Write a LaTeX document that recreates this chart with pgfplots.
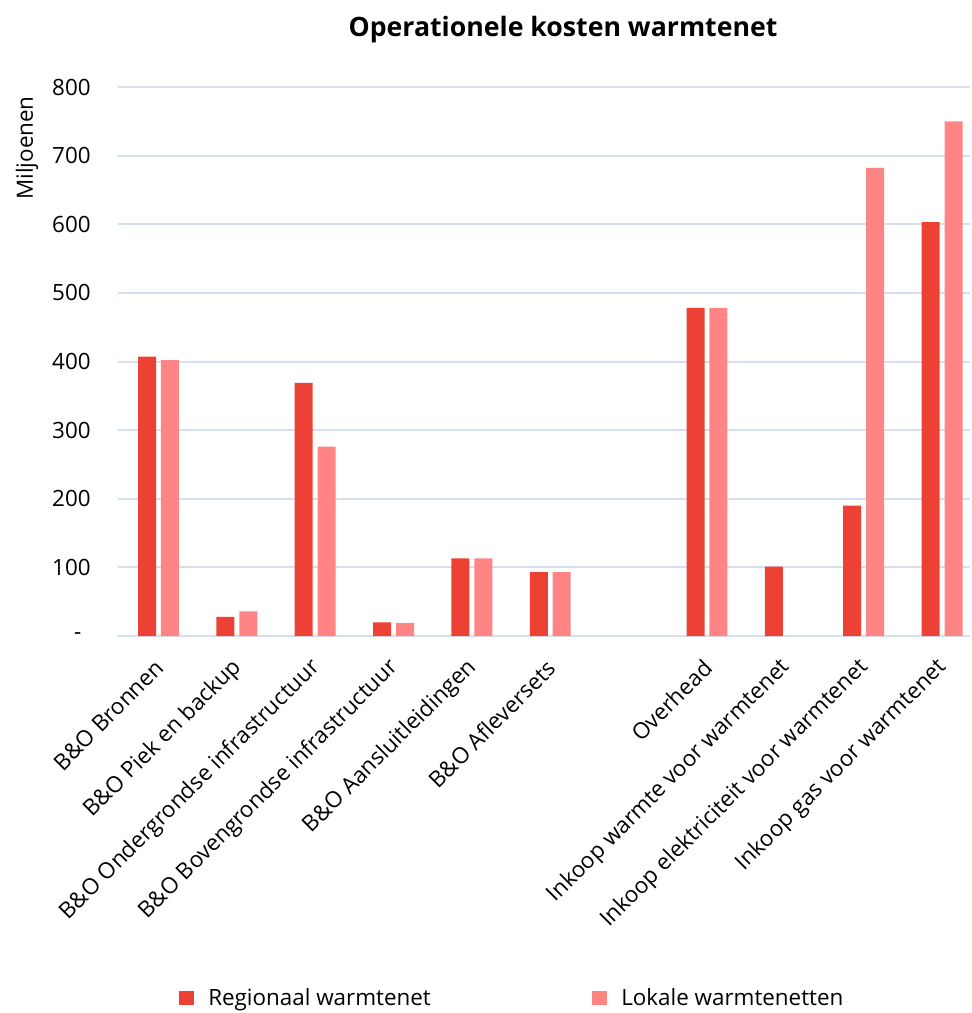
\documentclass[border=0pt]{standalone}
\usepackage{fontspec}
\setmainfont{Open Sans}
\usepackage{pgfplots}
\pgfplotsset{compat=1.18}
\definecolor{cred}{RGB}{238,65,54}
\definecolor{cpink}{RGB}{255,133,133}
\definecolor{cgrid}{RGB}{214,223,240}
\begin{document}
\begin{tikzpicture}
\useasboundingbox (-88.5pt,-282.75pt) rectangle (639.75pt,477pt);
\begin{axis}[
  at={(0,0)}, anchor=south west,
  scale only axis,
  width=639pt, height=411.75pt,
  xmin=-0.517, xmax=10.357,
  ymin=0, ymax=800,
  axis line style={draw=none},
  major tick length=0pt,
  ytick={0,100,...,800},
  yticklabels={{-\kern7pt},100,200,300,400,500,600,700,800},
  yticklabel style={font=\fontsize{16.8}{20}\selectfont, anchor=east, xshift=-17pt},
  xtick={0,1,2,3,4,5,6,7,8,9,10},
  xticklabels={B\&O Bronnen, B\&O Piek en backup, B\&O Ondergrondse infrastructuur, B\&O Bovengrondse infrastructuur, B\&O Aansluitleidingen, B\&O Afleversets, {}, Overhead, Inkoop warmte voor warmtenet, Inkoop elektriciteit voor warmtenet, Inkoop gas voor warmtenet},
  xticklabel style={font=\fontsize{16.8}{20}\selectfont, inner sep=0pt, xshift=1pt, yshift=-21pt, rotate=45, anchor=east},
  ymajorgrids, grid style={cgrid, line width=1.5pt},
  ybar, bar width=13.5pt,
  legend columns=2,
  legend style={at={(rel axis cs:0.0716,-0.6594)}, anchor=west, draw=none, inner sep=0pt,
     column sep=0pt, font=\fontsize{16.8}{20}\selectfont,
     nodes={inner sep=0pt}},
  legend image code/.code={\fill[#1] (0pt,-5.6pt) rectangle (11.25pt,5.6pt);},
]
\addplot[fill=cred, draw=none, bar shift=-8.6pt] coordinates {
 (0,407) (1,28) (2,369) (3,20) (4,113) (5,93) (7,478) (8,101) (9,190) (10,603)};
\addplot[fill=cpink, draw=none, bar shift=8.6pt] coordinates {
 (0,402) (1,36) (2,276) (3,19) (4,113) (5,93) (7,478) (9,682) (10,750)};
\legend{{\hspace*{10.5pt}\makebox[288pt][l]{Regionaal warmtenet}},{\hspace*{10.5pt}Lokale warmtenetten}}
\end{axis}
\node[rotate=90, font=\fontsize{16.8}{20}\selectfont] at (-68.25pt,366pt) {Miljoenen};
\node[anchor=base, font=\fontsize{20}{24}\selectfont\bfseries] at (333.75pt,449.25pt) {Operationele kosten warmtenet};
\end{tikzpicture}
\end{document}
